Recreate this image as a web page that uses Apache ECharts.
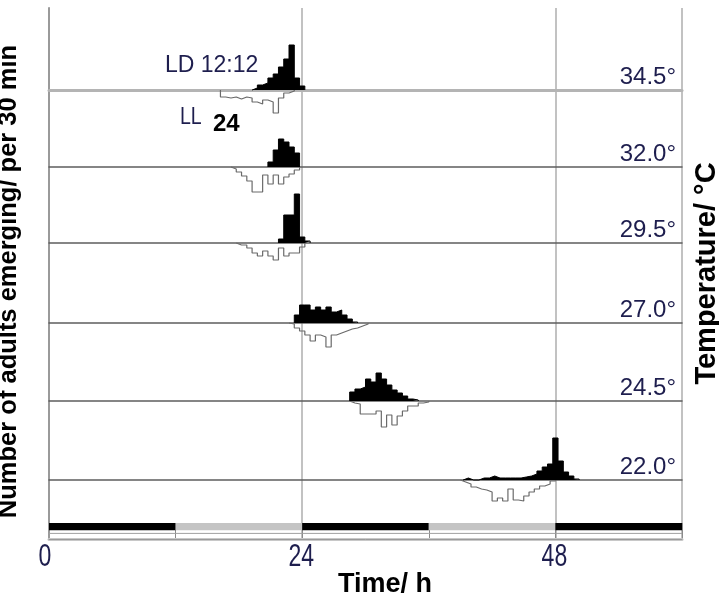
<!DOCTYPE html>
<html><head><meta charset="utf-8">
<script src="https://cdn.jsdelivr.net/npm/echarts@6/dist/echarts.min.js"></script>
<style>html,body{margin:0;padding:0;background:#fff}#c{width:719px;height:601px}</style>
</head><body><div id="c"></div>
<script>
// ---- data ----
const binWidth = 0.5; // h, adults per 30 min
const xTickValues = [0, 24, 48];
const xTickLabels = ['0', '24', '48'];
const temperatureLabels = ['34.5°', '32.0°', '29.5°', '27.0°', '24.5°', '22.0°'];
// LD 12:12 (filled, above baseline): start time of first bin per temperature
const ldStart = [19.25, 20.75, 21.75, 23.25, 28.5, 39.25];
const ld_345 = [2, 5, 7, 12, 16, 23, 31, 45, 12, 4];
const ld_320 = [5, 17, 28, 25, 20, 14];
const ld_295 = [4, 28, 28, 49, 6, 2];
const ld_270 = [8, 18, 18, 13, 16, 13, 16, 11, 13, 8, 4, 1];
const ld_245 = [9, 12, 14, 22, 19, 28, 22, 16, 11, 8, 5, 2, 1];
const ld_220 = [2, 0, 0, 2, 2, 4, 2, 2, 2, 2, 2, 3, 4, 6, 9, 13, 16, 42, 19, 8, 4, 1];
// LL (outline, below baseline)
const llStart = [16.25, 17.25, 17.75, 22.75, 28.5, 39.0];
const ll_345 = [7, 8, 7, 9, 7, 8, 12, 14, 10, 12, 23, 8, 3, 1];
const ll_320 = [2, 5, 9, 14, 25, 25, 8, 17, 8, 17, 10, 7, 3];
const ll_295 = [2, 2, 5, 10, 13, 8, 13, 17, 5, 13, 10, 10, 4];
const ll_270 = [1, 5, 8, 12, 18, 12, 14, 24, 12, 10, 8, 6, 5, 3, 1];
const ll_245 = [2, 3, 13, 13, 13, 10, 26, 14, 24, 15, 10, 5, 5, 2, 1];
const ll_220 = [2, 4, 7, 9, 10, 12, 21, 18, 21, 9, 20, 21, 16, 12, 9, 6, 4, 1];
// light regime bar
const lightFrom = [0, 12, 24, 36, 48];
const lightTo = [12, 24, 36, 48, 60];
const lightDark = [1, 0, 1, 0, 1];

const ldSets = [ld_345, ld_320, ld_295, ld_270, ld_245, ld_220];
const llSets = [ll_345, ll_320, ll_295, ll_270, ll_245, ll_220];

// ---- layout ----
const pL = 49, pR = 37, pT = 8, pB = 62;
const baselines = [90, 167, 243, 323, 401, 480];
const above = 50, below = 28;
const sans = "'Liberation Sans', Arial, sans-serif";
const navy = '#1e1e4e';

function stepData(start, vals, sign) {
  const pts = [[start, 0]];
  vals.forEach((v, i) => pts.push([start + i * binWidth, sign * v]));
  pts.push([start + vals.length * binWidth, 0]);
  return pts;
}

const gridBase = { left: pL, right: pR, outerBoundsMode: 'none', containLabel: false };
const grid = [Object.assign({}, gridBase, { top: pT, bottom: pB })];
const xAxis = [{
  gridIndex: 0, type: 'value', min: 0, max: 60, interval: 24,
  axisLine: { show: true, lineStyle: { color: '#bbb', width: 1 } },
  axisTick: { show: false },
  splitLine: { show: true, lineStyle: { color: '#c2c2c2', width: 2 } },
  axisLabel: { show: false },
  name: 'Time/ h', nameLocation: 'middle', nameGap: 32,
  nameTextStyle: { fontFamily: sans, fontWeight: 'bold', fontSize: 27, color: '#000', padding: [0, 0, 0, 39] }
}, {
  gridIndex: 0, type: 'value', min: 0, max: 60, position: 'top',
  axisLine: { show: true, lineStyle: { color: '#c8c8c8', width: 3 } },
  axisTick: { show: false }, axisLabel: { show: false }, splitLine: { show: false }
}];
const yAxis = [{
  gridIndex: 0, type: 'value', min: 0, max: 1, position: 'left',
  axisLine: { show: true, lineStyle: { color: '#d0d0d0', width: 1 } },
  axisTick: { show: false }, axisLabel: { show: false }, splitLine: { show: false },
  name: 'Number of adults emerging/ per 30 min', nameLocation: 'middle', nameGap: 27, nameRotate: 90,
  nameTextStyle: { fontFamily: sans, fontWeight: 'bold', fontSize: 25.5, color: '#000', padding: [0, 16, 0, 0] }
}, {
  gridIndex: 0, type: 'value', min: 0, max: 1, position: 'right',
  axisLine: { show: true, lineStyle: { color: '#9a9a9a', width: 2 } },
  axisTick: { show: false }, axisLabel: { show: false }, splitLine: { show: false },
  name: 'Temperature/ °C', nameLocation: 'middle', nameGap: 10, nameRotate: 90,
  nameTextStyle: { fontFamily: sans, fontWeight: 'bold', fontSize: 29, color: '#000', verticalAlign: 'top' }
}];
const series = [];
const graphic = [];

baselines.forEach((b, i) => {
  const gi = grid.length;
  grid.push(Object.assign({}, gridBase, { top: b - above, height: above + below }));
  xAxis.push({
    gridIndex: gi, type: 'value', min: 0, max: 60,
    axisLine: { show: true, onZero: true, lineStyle: i === 0 ? { color: '#b4b4b4', width: 3 } : { color: '#5e5e5e', width: 1.5 } },
    axisTick: { show: false }, axisLabel: { show: false }, splitLine: { show: false }
  });
  yAxis.push({ gridIndex: gi, type: 'value', min: -below, max: above, show: false });
  const ax = xAxis.length - 1, ay = yAxis.length - 1;
  series.push({
    type: 'line', xAxisIndex: ax, yAxisIndex: ay, step: 'end', symbol: 'none', silent: true,
    data: stepData(llStart[i], llSets[i], -1),
    lineStyle: { color: '#6a6a6a', width: 1.2 }, z: 3
  });
  series.push({
    type: 'line', xAxisIndex: ax, yAxisIndex: ay, step: 'end', symbol: 'none', silent: true,
    data: stepData(ldStart[i], ldSets[i], 1),
    lineStyle: { color: '#000', width: 1 }, areaStyle: { color: '#000', opacity: 1 }, z: 4
  });
  graphic.push({
    type: 'text', id: 'temp' + i, right: pR + 6, top: b - 25, z: 10,
    style: { text: temperatureLabels[i], fill: navy, font: '24px ' + sans, textAlign: 'right' }
  });
});

// light regime bar
const gb = grid.length;
grid.push(Object.assign({}, gridBase, { top: 523, height: 16 }));
xAxis.push({
  gridIndex: gb, type: 'value', min: 0, max: 60, interval: 12,
  axisLine: { show: true, lineStyle: { color: '#9a9a9a', width: 1 } },
  axisTick: { show: false }, axisLabel: { show: false },
  splitLine: { show: true, lineStyle: { color: '#8a8a8a', width: 1 } }
});
yAxis.push({ gridIndex: gb, type: 'value', min: 0, max: 1, show: false });
series.push({
  type: 'custom', xAxisIndex: xAxis.length - 1, yAxisIndex: yAxis.length - 1, silent: true,
  data: lightFrom.map((f, k) => [f, lightTo[k], lightDark[k]]),
  renderItem: function (params, api) {
    const p0 = api.coord([api.value(0), 1]);
    const p1 = api.coord([api.value(1), 0.55]);
    const p2 = api.coord([api.value(0), 0.35]);
    const p3 = api.coord([api.value(1), 0.35]);
    const dark = api.value(2) === 1;
    return {
      type: 'group', children: [
        { type: 'rect', shape: { x: p0[0], y: p0[1], width: p1[0] - p0[0], height: p1[1] - p0[1] },
          style: { fill: dark ? '#000' : '#c4c4c4' } },
        { type: 'line', shape: { x1: p2[0], y1: p2[1], x2: p3[0], y2: p3[1] },
          style: { stroke: '#a0a0a0', lineWidth: 1 } }
      ]
    };
  }
});

graphic.push(
  { type: 'text', id: 'ld', left: 165, top: 54, style: { text: 'LD 12:12', fill: navy, font: '23px ' + sans } },
  { type: 'text', id: 'll', left: 180, top: 106, style: { text: 'LL', fill: navy, font: '23px ' + sans }, scaleX: 0.85 },
  { type: 'text', id: 'n24', left: 213, top: 112, style: { text: '24', fill: '#000', font: 'bold 24px ' + sans } }
);

const chart = echarts.init(document.getElementById('c'), null, { renderer: 'canvas' });
chart.setOption({ animation: false, backgroundColor: '#fff', grid, xAxis, yAxis, series, graphic });

// x tick labels placed through the axis scale (tall condensed digits)
const tickGraphics = xTickValues.map((v, k) => {
  const px = chart.convertToPixel({ xAxisIndex: 0 }, v);
  return {
    type: 'text', id: 'tick' + k, x: px - (k === 0 ? 4 : 1), y: 541, scaleX: 0.72, originX: 0, z: 10,
    style: { text: xTickLabels[k], fill: navy, font: '32px ' + sans, textAlign: 'center', textVerticalAlign: 'top' }
  };
});
chart.setOption({ graphic: tickGraphics });
</script></body></html>
